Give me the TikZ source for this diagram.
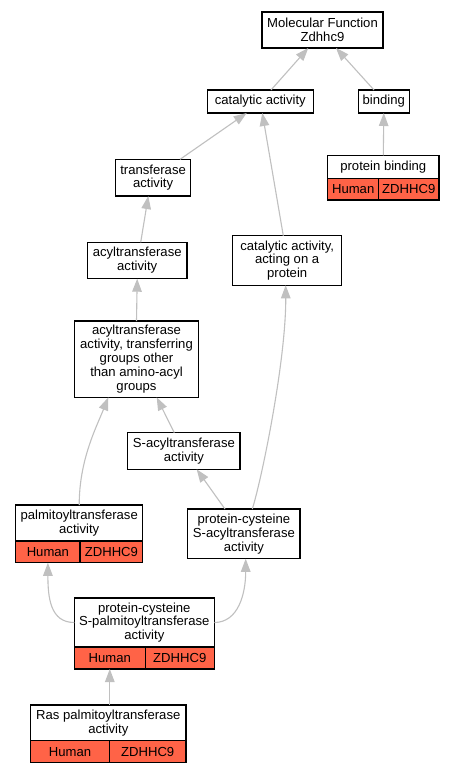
\documentclass[tikz,border=0pt]{standalone}
\usepackage{fontspec}
\setmainfont{Liberation Sans}
\usetikzlibrary{arrows.meta}
\definecolor{edgec}{RGB}{192,192,192}
\definecolor{tomatoc}{RGB}{255,99,71}
\newcommand{\gofont}{\fontsize{13.1bp}{13.8bp}\selectfont}
\begin{document}
\begin{tikzpicture}[x=1bp,y=-1bp,
  box/.style={draw=black, line width=1.2bp, inner sep=0pt, outer sep=0pt, align=center, font=\gofont, fill=white},
  cell/.style={box, fill=tomatoc},
  edge/.style={draw=edgec, line width=1.1bp, -{Triangle[length=13bp,width=9.5bp]}, edgec},
]
\useasboundingbox[fill=white] (0,0) rectangle (453,773);

% nodes
\node[box, minimum width=121bp, minimum height=36bp] (mf) at (322.5,30) {Molecular Function\\Zdhhc9};
\node[box, minimum width=106bp, minimum height=23bp] (cat) at (260.3,101.5) {catalytic activity};
\node[box, minimum width=51bp, minimum height=23bp] (bind) at (383.8,101.5) {binding};
\node[box, minimum width=111.3bp, minimum height=23bp] (pb) at (383.3,166.8) {protein binding};
\node[cell, minimum width=51bp, minimum height=21.7bp] (pbH) at (353.2,189.2) {Human};
\node[cell, minimum width=60.3bp, minimum height=21.7bp] (pbZ) at (408.8,189.2) {ZDHHC9};
\node[box, minimum width=75.2bp, minimum height=36.7bp] (tr) at (153.1,177.7) {transferase\\activity};
\node[box, minimum width=99.7bp, minimum height=36.4bp] (acyl) at (137.2,260.5) {acyltransferase\\activity};
\node[box, minimum width=109bp, minimum height=49.6bp] (cap) at (287.2,260.5) {catalytic activity,\\acting on a\\protein};
\node[box, minimum width=124.4bp, minimum height=76.3bp] (aother) at (136.5,359.2) {acyltransferase\\activity, transferring\\groups other\\than amino-acyl\\groups};
\node[box, minimum width=112.3bp, minimum height=36.6bp] (sacyl) at (183.9,451) {S-acyltransferase\\activity};
\node[box, minimum width=127bp, minimum height=36bp] (palm) at (79.2,523) {palmitoyltransferase\\activity};
\node[cell, minimum width=64.3bp, minimum height=21.7bp] (palmH) at (47.9,551.9) {Human};
\node[cell, minimum width=62.7bp, minimum height=21.7bp] (palmZ) at (111.4,551.9) {ZDHHC9};
\node[box, minimum width=112.3bp, minimum height=49.7bp] (pcsa) at (243.9,533.9) {protein-cysteine\\S-acyltransferase\\activity};
\node[box, minimum width=140bp, minimum height=49bp] (pcsp) at (144.3,622.5) {protein-cysteine\\S-palmitoyltransferase\\activity};
\node[cell, minimum width=71bp, minimum height=22bp] (pcspH) at (109.8,658) {Human};
\node[cell, minimum width=69bp, minimum height=22bp] (pcspZ) at (179.8,658) {ZDHHC9};
\node[box, minimum width=155.3bp, minimum height=35.7bp] (ras) at (108.3,722.9) {Ras palmitoyltransferase\\activity};
\node[cell, minimum width=78.6bp, minimum height=22bp] (rasH) at (70,751.7) {Human};
\node[cell, minimum width=76.7bp, minimum height=22bp] (rasZ) at (147.7,751.7) {ZDHHC9};

% edges
\draw[edge] ([xshift=10.7bp]cat.north) -- ([xshift=-14.2bp]mf.south);
\draw[edge] ([xshift=-9.8bp]bind.north) -- ([xshift=13.5bp]mf.south);
\draw[edge] (pb.north) -- (bind.south);
\draw[edge] ([xshift=26.9bp]tr.north) -- ([xshift=-13.6bp]cat.south);
\draw[edge] ([xshift=-3.9bp]cap.north) -- ([xshift=2bp]cat.south);
\draw[edge] ([xshift=3.5bp]acyl.north) -- ([xshift=-4.8bp]tr.south);
\draw[edge] (aother.north) -- (acyl.south);
\draw[edge] ([xshift=-9.6bp]sacyl.north) -- ([xshift=20.2bp]aother.south);
\draw[edge] (palm.north) .. controls +(0,-45) and +(-12,30) .. ([xshift=-28.2bp]aother.south);
\draw[edge] ([xshift=-18.9bp]pcsa.north) -- ([xshift=12.8bp]sacyl.south);
\draw[edge] ([xshift=8.4bp]pcsa.north) .. controls +(9.7,-31) and +(0.3,75) .. ([xshift=-1.5bp]cap.south);
\draw[edge] (pcsp.west) .. controls +(-24,0) and +(0,35) .. (palmH.south);
\draw[edge] (pcsp.east) .. controls +(24,0) and +(0,35) .. ([xshift=1.8bp]pcsa.south);
\draw[edge] (pcspH.south |- ras.north) -- (pcspH.south);
\end{tikzpicture}
\end{document}
